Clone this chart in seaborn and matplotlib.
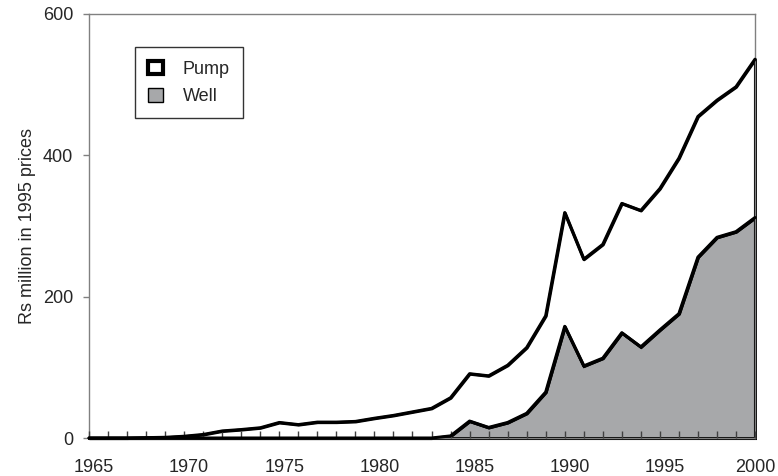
import numpy as np
import pandas as pd
import matplotlib
matplotlib.use("Agg")
import matplotlib.pyplot as plt
import matplotlib.transforms as mtransforms
from matplotlib.patches import Patch
import seaborn as sns

# Values (Rs million, 1995 prices)
years = list(range(1965, 2001))
total = [0, 0, 0, 0.5, 1, 2.5, 5, 10, 12, 14.5,
         22, 19, 22.5, 22.5, 23.5, 28, 32, 37, 42, 57,
         91, 88, 103, 128, 173, 319, 253, 274, 332, 322,
         353, 396, 455, 478, 497, 536]
well = [0, 0, 0, 0, 0, 0, 0, 0, 0, 0,
        0, 0, 0, 0, 0, 0, 0, 0, 0, 3,
        24, 15, 22, 35, 65, 158, 102, 113, 149, 129,
        153, 176, 256, 284, 292, 312]

df = pd.DataFrame({"year": years, "total": total, "well": well})
df["pump"] = df["total"] - df["well"]

sns.set_theme(style="white")
plt.rcParams["font.family"] = ["Liberation Sans", "DejaVu Sans"]

gray = "#a7a8aa"
axis_gray = "#808080"

fig = plt.figure(figsize=(7.78, 4.76), dpi=100)
ax = fig.add_axes([0.1144, 0.0798, 0.8560, 0.8908])
ax.set_axisbelow(False)

# stacked areas: well at bottom, pump on top
ax.fill_between(df["year"], 0, df["well"], facecolor=gray, edgecolor="black",
                linewidth=2.2, joinstyle="miter", zorder=1, clip_on=False)
ax.fill_between(df["year"], df["well"], df["total"], facecolor="white",
                edgecolor="black", linewidth=2.2, zorder=1, clip_on=False)
sns.lineplot(data=df, x="year", y="total", color="black", linewidth=2.2,
             ax=ax, zorder=3, clip_on=False)
sns.lineplot(data=df, x="year", y="well", color="black", linewidth=2.2,
             ax=ax, zorder=3, clip_on=False)

ax.set_xlim(1965, 2000)
ax.set_ylim(0, 600)
ax.set_xticks(range(1965, 2001, 5))
ax.set_xticks(years, minor=True)
ax.set_yticks([0, 200, 400, 600])
ax.tick_params(axis="x", which="both", direction="in", length=5, width=1,
               color="#404040", labelsize=13, pad=15, bottom=True)
ax.tick_params(axis="y", direction="out", length=4.5, width=1,
               color=axis_gray, labelsize=13, pad=7, left=True)
# labels sit a little right of their ticks in the original
shift = mtransforms.ScaledTranslation(5 / 100, 0, fig.dpi_scale_trans)
for lab in ax.get_xticklabels()[:-1]:
    lab.set_transform(lab.get_transform() + shift)
ax.set_xlabel("")
ax.set_ylabel("Rs million in 1995 prices", fontsize=13, labelpad=5)

for side in ["left", "top", "right", "bottom"]:
    ax.spines[side].set_color(axis_gray)
    ax.spines[side].set_linewidth(1)

handles = [
    Patch(facecolor="white", edgecolor="black", linewidth=3, label="Pump"),
    Patch(facecolor=gray, edgecolor="black", linewidth=1, label="Well"),
]
leg = ax.legend(handles=handles, loc="upper left", bbox_to_anchor=(0.069, 0.922),
                fontsize=13, frameon=True, fancybox=False, handlelength=0.8,
                handleheight=0.8, borderpad=0.75, labelspacing=0.55,
                handletextpad=1.1, borderaxespad=0)
leg.get_frame().set_edgecolor("black")
leg.get_frame().set_linewidth(1)

fig.savefig("out.png", dpi=100)
